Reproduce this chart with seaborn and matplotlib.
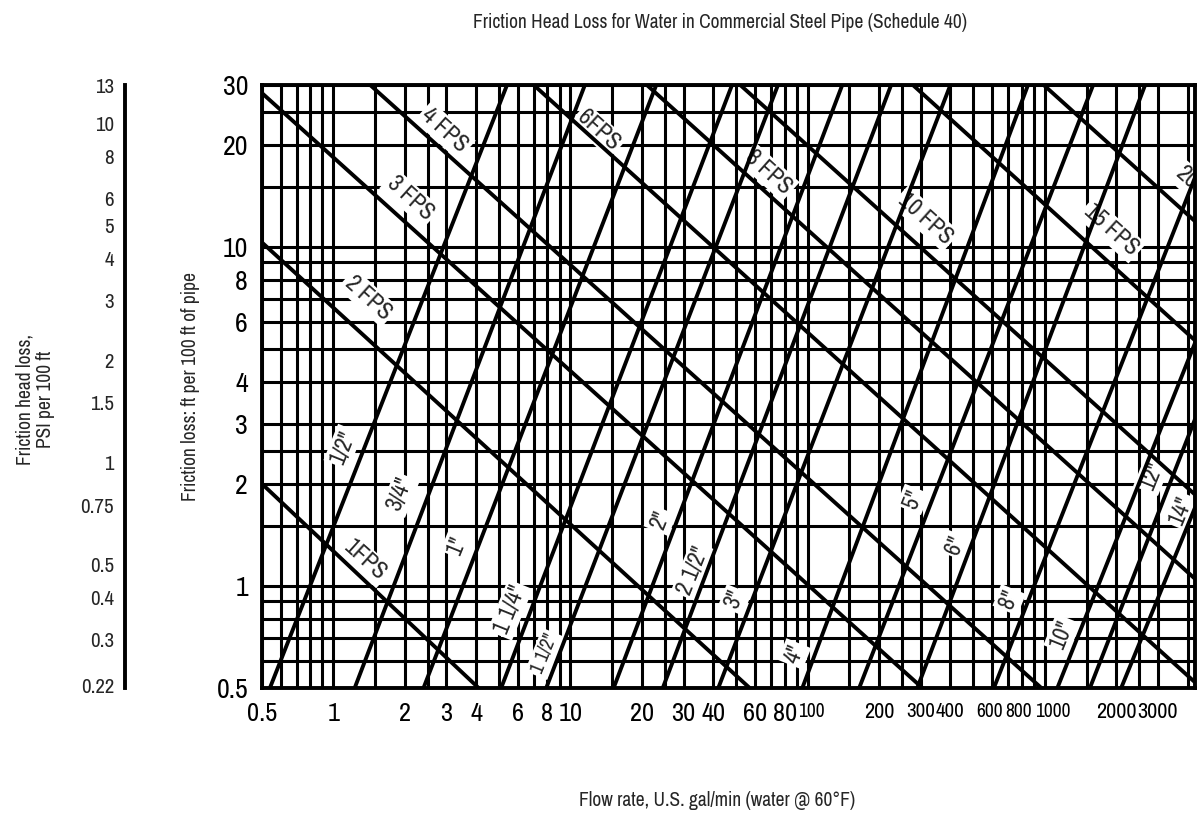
import pandas as pd
import seaborn as sns
import matplotlib.pyplot as plt
from matplotlib import font_manager
from matplotlib.transforms import ScaledTranslation

# ---- axis ticks -------------------------------------------------------------
flow_ticks = [0.5, 1, 2, 3, 4, 6, 8, 10, 20, 30, 40, 60, 80, 100,
              200, 300, 400, 600, 800, 1000, 2000, 3000]
flow_labels = ['0.5', '1', '2', '3', '4', '6', '8', '10', '20', '30', '40', '60', '80', '100',
               '200', '300', '400', '600', '800', '1000', '2000', '3000']
loss_ticks = [0.5, 1, 2, 3, 4, 6, 8, 10, 20, 30]
loss_labels = ['0.5', '1', '2', '3', '4', '6', '8', '10', '20', '30']
psi_ticks = [0.22, 0.3, 0.4, 0.5, 0.75, 1, 1.5, 2, 3, 4, 5, 6, 8, 10, 13]
psi_labels = ['0.22', '0.3', '0.4', '0.5', '0.75', '1', '1.5', '2', '3', '4', '5', '6', '8', '10', '13']

# grid of the nomograph
grid_mantissa = [1, 1.5, 2, 2.5, 3, 4, 5, 6, 7, 8, 9]
loss_grid = [0.5, 0.6, 0.7, 0.8, 0.9, 1, 1.5, 2, 2.5, 3, 4, 5, 6, 7, 8, 9, 10, 15, 20, 25, 30]

# ---- velocity lines (ft/s): two end points each (gpm, ft per 100 ft) -------
vel_names = ['1FPS', '2 FPS', '3 FPS', '4 FPS', '6FPS', '8 FPS', '10 FPS', '15 FPS', '20']
vel_q0 = [0.5, 0.5, 0.5, 1.43, 7.0, 21, 52, 278, 990]
vel_h0 = [2.0, 10.3, 28.4, 30, 30, 30, 30, 30, 30]
vel_q1 = [4.1, 57, 305, 968, 4300, 4300, 4300, 4300, 4300]
vel_h1 = [0.5, 0.5, 0.5, 0.5, 0.52, 1.05, 1.86, 5.3, 11.9]
vel_lab_q = [1.36, 1.40, 2.11, 2.95, 13.1, 68.5, 314, 1908, 3950]
vel_lab_h = [1.19, 7.07, 13.9, 22.0, 22.0, 16.6, 12.1, 11.2, 16.0]

# ---- pipe size lines (schedule 40) -------------------------------------------
pipe_names = ['1/2"', '3/4"', '1"', '1 1/4"', '1 1/2"', '2"', '2 1/2"', '3"', '4"',
              '5"', '6"', '8"', '10"', '12"', '14"']
pipe_q0 = [0.54, 1.23, 2.4, 5.1, 7.9, 15.2, 24.5, 42, 95, 165, 290, 610, 1130, 1550, 2100]
pipe_h0 = [0.5] * 15
pipe_q1 = [5.4, 11.5, 23, 48, 75, 140, 225, 400, 850, 1600, 2650, 4300, 4300, 4300, 4300]
pipe_h1 = [30, 30, 30, 30, 30, 30, 30, 30, 30, 30, 30, 16, 5.2, 3.1, 1.7]
pipe_lab_q = [1.10, 1.91, 3.32, 5.56, 7.8, 23.9, 33.0, 49.3, 88, 278, 418, 708, 1183, 2830, 3750]
pipe_lab_h = [2.57, 1.86, 1.32, 0.85, 0.63, 1.56, 1.11, 0.91, 0.63, 1.80, 1.32, 0.91, 0.72, 2.12, 1.67]

rows = []
for i, n in enumerate(vel_names):
    rows += [('v' + n, vel_q0[i], vel_h0[i]), ('v' + n, vel_q1[i], vel_h1[i])]
for i, n in enumerate(pipe_names):
    rows += [('p' + n, pipe_q0[i], pipe_h0[i]), ('p' + n, pipe_q1[i], pipe_h1[i])]
lines = pd.DataFrame(rows, columns=['line', 'flow', 'loss'])

sns.set_style('white')
plt.rcParams['font.family'] = ['Liberation Sans', 'DejaVu Sans']

# a narrow face for the crowded labels, if one is installed
def find_face(word):
    for f in font_manager.fontManager.ttflist:
        tag = (f.fname + ' ' + f.name).lower()
        if word in tag and not any(w in tag for w in ('bold', 'italic', 'oblique')):
            return f.fname
    return None

narrow = find_face('narrow')
condensed = find_face('condensed')
face = narrow or condensed
def nfont(size):
    if face:
        return font_manager.FontProperties(fname=face, size=size)
    return font_manager.FontProperties(family='Liberation Sans', size=size)

fig = plt.figure(figsize=(12, 8.15), dpi=100)
ax = fig.add_axes([0.2183, 0.1558, 0.7775, 0.7399])
ax.set_xscale('log')
ax.set_yscale('log')

flow_grid = [m * 10 ** e for e in range(-1, 4) for m in grid_mantissa
             if 0.5 <= m * 10 ** e <= 4300]
for q in flow_grid:
    ax.axvline(q, color='black', lw=2.2, zorder=1)
for h in loss_grid:
    ax.axhline(h, color='black', lw=2.2, zorder=1)

sns.lineplot(data=lines, x='flow', y='loss', units='line', estimator=None,
             color='black', lw=2.8, ax=ax, zorder=3, legend=False)

for i, n in enumerate(vel_names):
    ax.text(vel_lab_q[i], vel_lab_h[i], n, rotation=-42, rotation_mode='anchor',
            ha='center', va='center', fontproperties=nfont(17), zorder=2, clip_on=True,
            bbox=dict(facecolor='white', edgecolor='none', pad=2))
for i, n in enumerate(pipe_names):
    ax.text(pipe_lab_q[i], pipe_lab_h[i], n, rotation=68, rotation_mode='anchor',
            ha='center', va='center', fontproperties=nfont(17 if i != 4 else 14),
            zorder=2, clip_on=True,
            bbox=dict(facecolor='white', edgecolor='none', pad=2))

ax.set_xlim(0.5, 4300)
ax.set_ylim(0.5, 30)
ax.set_xticks(flow_ticks)
ax.set_yticks(loss_ticks)
ax.minorticks_off()
ax.tick_params(axis='both', direction='out', length=7, width=2.2, pad=3, colors='black')

# crowded flow labels are set smaller and nudged apart (points)
if narrow:
    small_size = {'100': 14, '200': 16, '300': 15, '400': 15, '600': 14, '800': 14,
                  '1000': 14, '2000': 16, '3000': 16}
    nudge = {'100': 3, '600': -2, '800': -2.5, '1000': 6}
    big = 19
else:
    small_size = {'100': 12, '200': 13, '300': 12, '400': 12, '600': 12, '800': 12,
                  '1000': 11, '2000': 13, '3000': 13}
    nudge = {'100': 4, '600': -3, '800': -4.5, '1000': 7}
    big = 16
ax.set_xticklabels(flow_labels)
for t, s in zip(ax.get_xticklabels(), flow_labels):
    t.set_fontproperties(nfont(small_size.get(s, big)))
    if s in nudge:
        t.set_transform(t.get_transform() + ScaledTranslation(nudge[s] / 72, 0, fig.dpi_scale_trans))
ax.set_yticklabels(loss_labels)
for t in ax.get_yticklabels():
    t.set_fontproperties(nfont(20))
for s in ax.spines.values():
    s.set_linewidth(2.8)
    s.set_color('black')
ax.set_xlabel('')
ax.set_ylabel('Friction loss: ft per 100 ft of pipe', fontproperties=nfont(14))
ax.yaxis.set_label_coords(-0.066, 0.5)

# PSI scale on the far left
psi = fig.add_axes([0.1042, 0.1558, 0.01, 0.7399])
psi.set_yscale('log')
psi.set_ylim(0.5 * 0.433, 30 * 0.433)
psi.set_yticks(psi_ticks)
psi.minorticks_off()
psi.set_xticks([])
for s in ['top', 'right', 'bottom']:
    psi.spines[s].set_visible(False)
psi.spines['left'].set_linewidth(2.8)
psi.spines['left'].set_color('black')
psi.tick_params(axis='y', direction='in', length=14, width=2.8, pad=8)
psi.set_yticklabels(psi_labels)
for t in psi.get_yticklabels():
    t.set_fontproperties(nfont(15))
psi.patch.set_alpha(0)

fig.text(0.029, 0.51, 'Friction head loss,\nPSI per 100 ft', rotation=90,
         ha='center', va='center', fontproperties=nfont(14), linespacing=1.1)
fig.text(0.6, 0.972, 'Friction Head Loss for Water in Commercial Steel Pipe (Schedule 40)',
         ha='center', va='center', fontproperties=nfont(14))
fig.text(0.598, 0.018, 'Flow rate, U.S. gal/min (water @ 60\u00b0F)',
         ha='center', va='center', fontproperties=nfont(14))

fig.savefig('out.png', dpi=100)
